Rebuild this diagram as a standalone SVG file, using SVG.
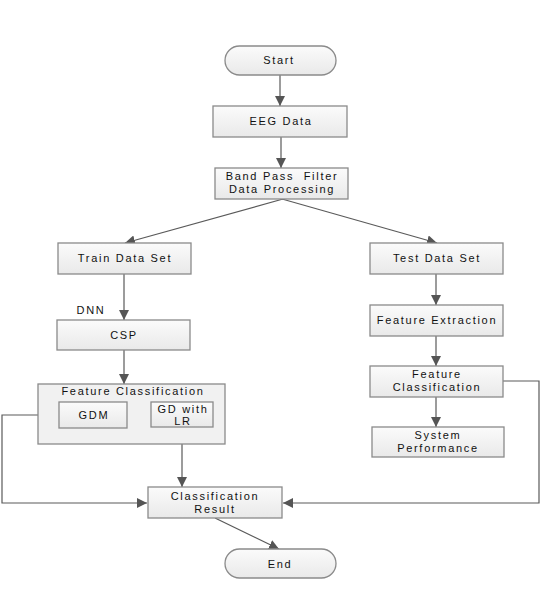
<svg xmlns="http://www.w3.org/2000/svg" width="554" height="592" viewBox="0 0 554 592">
<defs>
<linearGradient id="g" x1="0" y1="0" x2="0" y2="1">
<stop offset="0" stop-color="#fbfbfb"/>
<stop offset="1" stop-color="#e9e9e9"/>
</linearGradient>
<marker id="ah" viewBox="0 0 10 10" refX="10" refY="5" markerWidth="10" markerHeight="10" markerUnits="userSpaceOnUse" orient="auto">
<path d="M0,0 L10,5 L0,10 z" fill="#555"/>
</marker>
<style>
.box{fill:url(#g);stroke:#8a8a8a;stroke-width:1.3}
.cont{fill:#f1f1f1;stroke:#8a8a8a;stroke-width:1.3}
text{font-family:"Liberation Sans",Arial,sans-serif;font-size:11px;letter-spacing:1.7px;fill:#111;text-anchor:middle;white-space:pre}
.c{fill:none;stroke:#5a5a5a;stroke-width:1.2}
.a{marker-end:url(#ah)}
</style>
</defs>
<rect width="554" height="592" fill="#fff"/>
<g id="connectors">
<line class="c a" x1="280" y1="75" x2="280" y2="106"/>
<line class="c a" x1="281" y1="137" x2="281" y2="168"/>
<line class="c a" x1="283" y1="199" x2="125" y2="243"/>
<line class="c a" x1="282" y1="199" x2="437" y2="243"/>
<line class="c a" x1="124" y1="274" x2="124" y2="320"/>
<line class="c a" x1="124" y1="350" x2="124" y2="384"/>
<polyline class="c a" points="59,415 2,415 2,503 147,503"/>
<line class="c a" x1="182" y1="427" x2="182" y2="487"/>
<polyline class="c a" points="503,381 539,381 539,503 283,503"/>
<line class="c a" x1="436" y1="274" x2="436" y2="305"/>
<line class="c a" x1="436" y1="336" x2="436" y2="366"/>
<line class="c a" x1="436" y1="397" x2="436" y2="427"/>
<line class="c a" x1="215" y1="518" x2="279" y2="549"/>
</g>
<g id="start"><rect class="box" x="225" y="46" width="111" height="29" rx="14.5"/><text x="279" y="64">Start</text></g>
<g id="eeg"><rect class="box" x="213" y="106" width="134" height="31"/><text x="281" y="125">EEG Data</text></g>
<g id="bandpass"><rect class="box" x="215" y="168" width="133" height="31"/><text x="282" y="180">Band Pass  Filter</text><text x="282" y="193">Data Processing</text></g>
<g id="train"><rect class="box" x="58" y="243" width="133" height="31"/><text x="125" y="262">Train Data Set</text></g>
<g id="dnn"><text x="91" y="314">DNN</text></g>
<g id="csp"><rect class="box" x="57" y="320" width="133" height="30"/><text x="124" y="339">CSP</text></g>
<g id="featclass-left"><rect class="cont" x="38" y="384" width="187" height="60"/><text x="133" y="395">Feature Classification</text></g>
<g id="gdm"><rect class="box" x="59" y="402" width="68" height="26"/><text x="94" y="419">GDM</text></g>
<g id="gdlr"><rect class="box" x="151" y="402" width="62" height="25"/><text x="183" y="413">GD with</text><text x="183" y="425">LR</text></g>
<g id="test"><rect class="box" x="370" y="243" width="133" height="31"/><text x="437" y="262">Test Data Set</text></g>
<g id="featext"><rect class="box" x="370" y="305" width="133" height="31"/><text x="437" y="324">Feature Extraction</text></g>
<g id="featclass-right"><rect class="box" x="370" y="366" width="133" height="31"/><text x="437" y="378">Feature</text><text x="437" y="391">Classification</text></g>
<g id="sysperf"><rect class="box" x="372" y="427" width="132" height="30"/><text x="438" y="439">System</text><text x="438" y="452">Performance</text></g>
<g id="result"><rect class="box" x="148" y="487" width="134" height="31"/><text x="215" y="500">Classification</text><text x="215" y="513">Result</text></g>
<g id="end"><rect class="box" x="225" y="549" width="111" height="29" rx="14.5"/><text x="280" y="568">End</text></g>
</svg>
